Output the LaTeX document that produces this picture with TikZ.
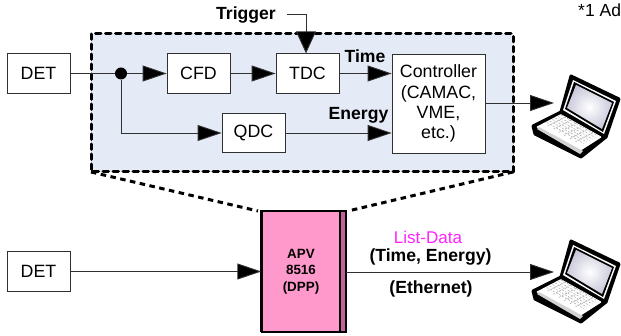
\documentclass[tikz,border=0pt]{standalone}
\usepackage{fontspec}
\setmainfont{Liberation Sans}
\usetikzlibrary{arrows.meta,calc}
\definecolor{panelblue}{HTML}{E4EAF6}
\definecolor{apvpink}{HTML}{FF99CC}
\definecolor{apvside}{HTML}{C2629A}
\definecolor{linegrey}{HTML}{303030}
\definecolor{listpink}{HTML}{FF22FF}
\tikzset{
  x=1pt,y=-1pt,
  blockbox/.style={draw=linegrey,line width=0.8pt,fill=white,inner sep=0pt,align=center,
    font=\fontsize{17.8}{20.2}\selectfont},
  conn/.style={draw=linegrey,line width=0.9pt},
  arrowconn/.style={conn,-{Triangle[length=24pt,width=16pt,fill=black]}},
  zoomdash/.style={line width=3pt,black,dash pattern=on 5.5pt off 4.5pt},
  boldlabel/.style={font=\fontsize{17.6}{20}\selectfont\bfseries,inner sep=0pt},
  keygrid/.style={line width=0.5pt,draw=gray!70,dash pattern=on 2pt off 1.5pt},
  laptop/.pic={
    % base
    \filldraw[black,line width=3pt,line join=round] (533,126)--(561,112)--(606,137)--(581,157)--(535,134)--cycle;
    \fill[white,rounded corners=1pt] (536,127)--(561,114)--(602,137)--(580,151)--cycle;
    \fill[gray!35] (537,129)--(580,154)--(583,151)--(539,127)--cycle;
    \foreach \t in {0.15,0.3,0.45,0.6,0.75,0.9}{
      \draw[keygrid] ($(544,124)!\t!(563,114)$) -- ($(581,145)!\t!(600,135)$);
    }
    \foreach \t in {0.1,0.25,0.4,0.55,0.7,0.85}{
      \draw[keygrid] ($(544,124)!\t!(581,145)$) -- ($(563,114)!\t!(600,135)$);
    }
    % lid
    \filldraw[black,line width=3pt,line join=round] (571,76)--(619,99)--(606,137)--(561,112)--cycle;
    \fill[white] (573,80)--(616,101)--(604,134)--(563,110)--cycle;
    \fill[black] (574,82)--(614,102)--(603,132)--(565,109)--cycle;
    \shade[inner color=white,outer color=blue!20!gray!35] (576,85)--(612,103)--(602,129)--(567,108)--cycle;
  }
}
\begin{document}
\begin{tikzpicture}
\useasboundingbox (0,0) rectangle (621,336);
% panel
\fill[panelblue] (91,34) rectangle (513,172);
\draw[zoomdash,line cap=round] (91,34) rectangle (513,172);

% blocks
\node[blockbox,minimum width=63pt,minimum height=39.5pt] (det1) at (38.5,73.5) {DET};
\node[blockbox,minimum width=63pt,minimum height=39.5pt] (cfd) at (198.5,73.5) {CFD};
\node[blockbox,minimum width=63pt,minimum height=39.5pt] (tdc) at (307.5,73.5) {TDC};
\node[blockbox,minimum width=63pt,minimum height=39.5pt] (qdc) at (253.5,133) {QDC};
\node[blockbox,minimum width=93pt,minimum height=99pt] (ctrl) at (438.5,103.5) {Controller\\(CAMAC,\\VME,\\etc.)};
\node[blockbox,minimum width=63pt,minimum height=39.5pt] (det2) at (38.5,271.5) {DET};

% APV
\node[draw=black,line width=1.4pt,fill=apvpink,inner sep=0pt,minimum width=78pt,minimum height=121pt,
  align=center,font=\fontsize{13.4}{16.4}\selectfont\bfseries] (apv) at (301,271.5) {APV\\8516\\(DPP)};
\fill[black] (259.5,210.5) rectangle (263,332.5);
\fill[apvside] (340,211.5) rectangle (345.5,331.5);
\draw[black,line width=1.4pt] (340,211) rectangle (346,332);

% connectors
\node[circle,fill=black,inner sep=0pt,minimum size=12pt] (junc) at (121,73.5) {};
\coordinate (trigstart) at (287,14);
\coordinate (trigbend) at (306,14);
\coordinate (qbend) at (121,133);
\coordinate (lap1in) at (554,103);
\coordinate (lap2in) at (554,272);
\coordinate (ctrlout) at (ctrl.east|-lap1in);
\coordinate (apvout) at (346,272);

\draw[conn] (det1.east) -- (junc);
\draw[arrowconn] (junc) -- (cfd.west);
\draw[arrowconn] (cfd.east) -- (tdc.west);
\draw[arrowconn] (tdc.east) -- (ctrl.west|-tdc.east);
\draw[arrowconn] (junc) -- (qbend) -- (qdc.west);
\draw[arrowconn] (qdc.east) -- (ctrl.west|-qdc.east);
\draw[conn,-{Triangle[length=22pt,width=20pt,fill=black]}] (trigstart) -- (trigbend) -- (tdc.north-|trigbend);
\draw[arrowconn] (ctrlout) -- (lap1in);
\draw[arrowconn] (det2.east) -- (apv.west);
\draw[arrowconn] (apvout) -- (lap2in);

% zoom lines
\draw[zoomdash] (91,172) -- (258,211);
\draw[zoomdash] (513,172) -- (348,211);

% laptops
\pic {laptop};
\pic at (0,165) {laptop};

% labels
\node[boldlabel] (ltrig) at (246,14.5) {Trigger};
\node[boldlabel] (ltime) at (365,56) {Time};
\node[boldlabel] (lenergy) at (358.5,115) {Energy};
\node[boldlabel] (ltimeen) at (430.5,257) {(Time, Energy)};
\node[boldlabel] (leth) at (431,289) {(Ethernet)};
\node[font=\fontsize{17}{20}\selectfont,text=listpink,inner sep=0pt] (llist) at (428,237.5) {List-Data};
\node[font=\fontsize{17.5}{20}\selectfont,anchor=west,inner sep=0pt] (lnote) at (578,10) {*1 Ad};
\end{tikzpicture}
\end{document}
